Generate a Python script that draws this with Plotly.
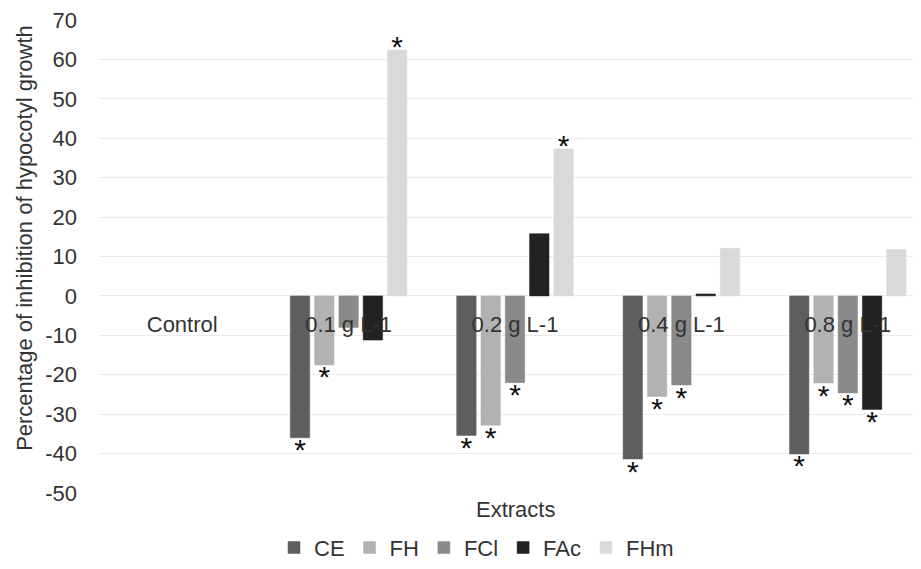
import plotly.graph_objects as go

categories = ["Control", "0.1 g L-1", "0.2 g L-1", "0.4 g L-1", "0.8 g L-1"]
series_names = ["CE", "FH", "FCl", "FAc", "FHm"]
CE = [None, -36.0, -35.4, -41.4, -40.1]
FH = [None, -17.5, -32.8, -25.5, -22.1]
FCl = [None, -8.0, -22.0, -22.6, -24.6]
FAc = [None, -11.2, 15.8, 0.5, -28.8]
FHm = [None, 62.4, 37.3, 12.1, 11.8]
# significance marks (1 = asterisk)
CE_sig = [0, 1, 1, 1, 1]
FH_sig = [0, 1, 1, 1, 1]
FCl_sig = [0, 0, 1, 1, 1]
FAc_sig = [0, 0, 0, 0, 1]
FHm_sig = [0, 1, 1, 0, 0]
y_ticks = [70, 60, 50, 40, 30, 20, 10, 0, -10, -20, -30, -40, -50]
y_tick_labels = ["70", "60", "50", "40", "30", "20", "10", "0",
                 "-10", "-20", "-30", "-40", "-50"]

colors = ["#5e5e5e", "#b2b2b2", "#8a8a8a", "#222222", "#d9d9d9"]
FONT = "Liberation Sans, Arial, sans-serif"

all_vals = [CE, FH, FCl, FAc, FHm]
all_sig = [CE_sig, FH_sig, FCl_sig, FAc_sig, FHm_sig]

fig = go.Figure()
for name, vals, col in zip(series_names, all_vals, colors):
    fig.add_trace(go.Bar(
        x=categories, y=vals, name=name,
        marker=dict(color=col, line=dict(color=col, width=0.5)),
    ))

for name, vals, sig in zip(series_names, all_vals, all_sig):
    ys = [v if (s and v is not None) else None for v, s in zip(vals, sig)]
    pos = ["middle center" if (v is not None and v > 0) else "bottom center" for v in vals]
    fig.add_trace(go.Scatter(
        x=categories, y=ys, mode="text", text=["*"] * len(ys),
        textposition=pos, showlegend=False, hoverinfo="skip",
        textfont=dict(size=30, color="#111111", family=FONT),
        cliponaxis=False, name=name + " sig",
    ))

# the page body adds an 8 px offset; work in reference pixel coords minus OFF
OFF = 8
W, H = 921 - OFF, 569 - OFF
left, top, bottom_px = 99 - OFF, 20 - OFF, 493.3 - OFF
pw = W - left
ph = bottom_px - top


def px_x(x):
    return (x - OFF - left) / pw


def px_y(y):
    return (bottom_px - (y - OFF)) / ph


fig.update_layout(
    width=W, height=H,
    margin=dict(l=left, r=0, t=top, b=H - bottom_px),
    paper_bgcolor="white", plot_bgcolor="white",
    barmode="group", bargap=0.27, bargroupgap=0.2,
    scattermode="group", scattergap=0.27,
    font=dict(family=FONT, size=22, color="#333333"),
    showlegend=True,
    legend=dict(orientation="h", x=px_x(274), xanchor="left",
                y=px_y(548), yanchor="middle",
                font=dict(size=22, color="#333333"), itemwidth=30,
                tracegroupgap=0, bgcolor="rgba(0,0,0,0)"),
    xaxis=dict(range=[-0.5, -0.5 + pw / 166.4], anchor="free",
               position=50 / 120, showgrid=False, showline=False, zeroline=False,
               ticks="", ticklabelstandoff=13, automargin=False,
               ticklabeloverflow="allow",
               tickfont=dict(size=22, color="#333333")),
    yaxis=dict(range=[-50, 70], tickvals=y_ticks, ticktext=y_tick_labels,
               showgrid=True, automargin=False, ticklabeloverflow="allow",
               gridcolor="#ebebeb", gridwidth=1, zeroline=True,
               zerolinecolor="#ebebeb", zerolinewidth=1, showline=False,
               ticks="", ticklabelstandoff=21,
               tickfont=dict(size=22, color="#333333")),
    annotations=[
        dict(text="Extracts", xref="paper", yref="paper",
             x=px_x(515), y=px_y(510),
             xanchor="center", yanchor="middle", showarrow=False,
             font=dict(size=22, color="#333333")),
        dict(text="Percentage of inhibition of hypocotyl growth", xref="paper",
             yref="paper", x=px_x(25), y=px_y(238),
             textangle=-90, xanchor="center", yanchor="middle", showarrow=False,
             font=dict(size=22, color="#333333")),
    ],
)

fig.write_html("out.html")
